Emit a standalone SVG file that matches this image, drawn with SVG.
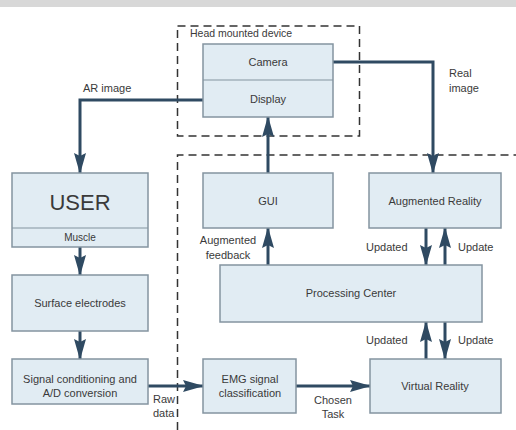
<svg xmlns="http://www.w3.org/2000/svg" width="516" height="430" viewBox="0 0 516 430">
  <defs>
    <style>
      .box { fill: #e1ecf3; stroke: #8494a0; stroke-width: 1.5; }
      .frame { fill: none; stroke: #333; stroke-width: 1.5; stroke-dasharray: 8 5; }
      .wire { fill: none; stroke: #2f4a62; stroke-width: 3; marker-end: url(#arrow); }
      text { font-family: "Liberation Sans", Arial, sans-serif; font-size: 11px; fill: #3a3a3a; }
      .c { text-anchor: middle; }
    </style>
    <marker id="arrow" markerUnits="userSpaceOnUse" markerWidth="21" markerHeight="13" refX="20" refY="6.5" orient="auto">
      <path d="M0,0.5 L21,6.5 L0,12.5 L3,6.5 Z" fill="#2f4a62"/>
    </marker>
  </defs>

  <rect x="0" y="0" width="516" height="430" fill="#fff"/>
  <rect x="0" y="0" width="516" height="7" fill="#d8d8d8"/>

  <!-- dashed frames -->
  <g id="frames">
    <rect class="frame" x="177.5" y="26" width="182" height="110"/>
    <path class="frame" d="M177.5,430 V155 H516"/>
    <text x="190" y="37" style="font-size:10.5px">Head mounted device</text>
  </g>

  <!-- connectors -->
  <g id="connectors">
    <path class="wire" d="M203,100 H80 V173"/>
    <path class="wire" d="M333,62 H433 V173"/>
    <path class="wire" d="M80,247 V275"/>
    <path class="wire" d="M80,331 V359"/>
    <path class="wire" d="M148,386 H203"/>
    <path class="wire" d="M296,386 H370"/>
    <path class="wire" d="M268,173 V117"/>
    <path class="wire" d="M268,265 V228"/>
    <path class="wire" d="M426,228 V265"/>
    <path class="wire" d="M445,265 V228"/>
    <path class="wire" d="M426,359 V322"/>
    <path class="wire" d="M445,322 V359"/>
    <text x="83" y="92">AR image</text>
    <text x="449" y="77">Real</text>
    <text x="449" y="92">image</text>
    <text x="153" y="403">Raw</text>
    <text x="153" y="417">data</text>
    <text class="c" x="333" y="404">Chosen</text>
    <text class="c" x="333" y="418">Task</text>
    <text class="c" x="228" y="244">Augmented</text>
    <text class="c" x="228" y="259">feedback</text>
    <text x="366" y="251">Updated</text>
    <text x="458" y="251">Update</text>
    <text x="366" y="344">Updated</text>
    <text x="458" y="344">Update</text>
  </g>

  <g id="hmd">
    <rect class="box" x="203" y="44" width="130" height="73"/>
    <line x1="203" y1="80" x2="333" y2="80" stroke="#8494a0" stroke-width="1.2"/>
    <text class="c" x="268" y="66">Camera</text>
    <text class="c" x="268" y="103">Display</text>
  </g>

  <g id="user">
    <rect class="box" x="12" y="173" width="136" height="74"/>
    <line x1="12" y1="228" x2="148" y2="228" stroke="#8494a0" stroke-width="1.2"/>
    <text class="c" x="80" y="210" style="font-size:22px">USER</text>
    <text class="c" x="80" y="241" style="font-size:10px">Muscle</text>
  </g>

  <g id="electrodes">
    <rect class="box" x="12" y="275" width="136" height="56"/>
    <text class="c" x="80" y="307">Surface electrodes</text>
  </g>

  <g id="conditioning">
    <rect class="box" x="12" y="359" width="136" height="45"/>
    <text class="c" x="80" y="383">Signal conditioning and</text>
    <text class="c" x="80" y="397">A/D conversion</text>
  </g>

  <g id="gui">
    <rect class="box" x="203" y="173" width="130" height="55"/>
    <text class="c" x="268" y="205">GUI</text>
  </g>

  <g id="augmented">
    <rect class="box" x="369" y="173" width="132" height="55"/>
    <text class="c" x="435" y="205">Augmented Reality</text>
  </g>

  <g id="processing">
    <rect class="box" x="220" y="265" width="262" height="57"/>
    <text class="c" x="351" y="297">Processing Center</text>
  </g>

  <g id="emg">
    <rect class="box" x="203" y="359" width="93" height="54"/>
    <text class="c" x="250" y="383">EMG signal</text>
    <text class="c" x="250" y="397">classification</text>
  </g>

  <g id="virtual">
    <rect class="box" x="370" y="359" width="131" height="54"/>
    <text class="c" x="435" y="390">Virtual Reality</text>
  </g>
</svg>
